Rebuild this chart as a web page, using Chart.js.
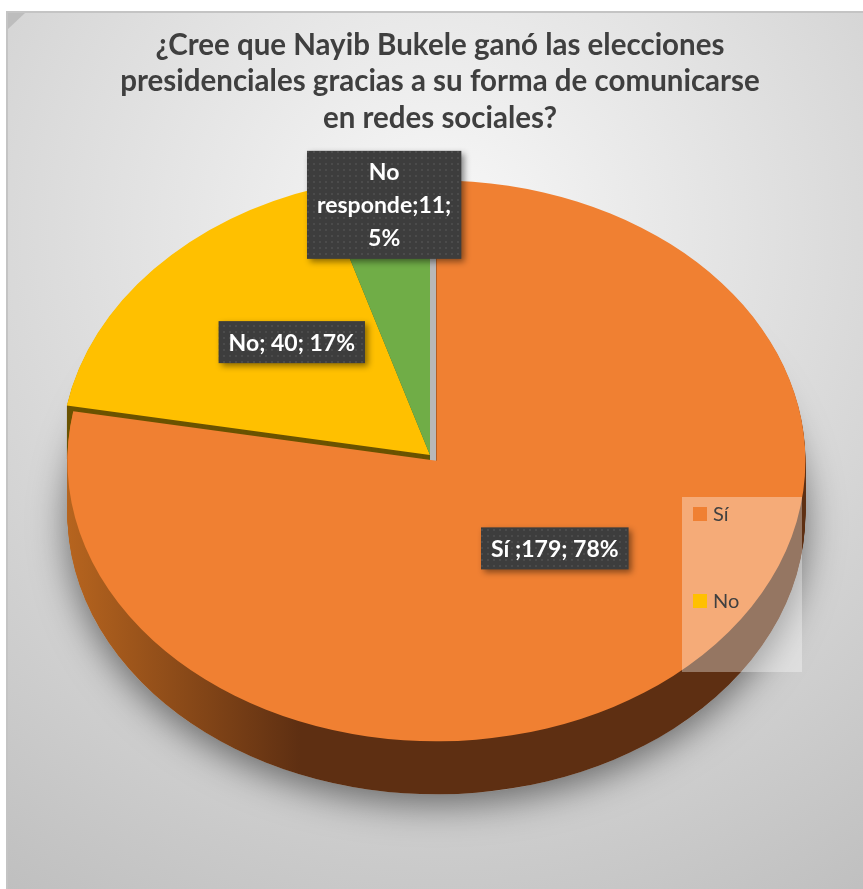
<!DOCTYPE html>
<html>
<head>
<meta charset="utf-8">
<style>
  html, body { margin: 0; padding: 0; background: #ffffff; }
  canvas { display: block; }
</style>
<script src="https://cdn.jsdelivr.net/npm/chart.js@4.4.1/dist/chart.umd.min.js"></script>
</head>
<body>
<canvas id="chart" width="863" height="889"></canvas>
<script>
// ---------------- data ----------------
const categories = ['Sí ', 'No', 'No responde'];
const responses = [179, 40, 11];
const labelSeparators = [';', '; ', ';'];
const titleLines = [
  '¿Cree que Nayib Bukele ganó las elecciones',
  'presidenciales gracias a su forma de comunicarse',
  'en redes sociales?'
];

// ---------------- style ----------------
const W = 863, H = 889;
const topColors = ['#F08032', '#FFC000', '#70AD47'];
const sideColors = [null, '#6B5300', '#3E6127'];
const PIE_R = 369;          // radius in px
const TILT = 0.76;          // vertical squash of the 3D view
const DEPTH = 53;           // thickness of the pie in px
const CX = 430, CY = 455;   // centre of the top face on screen
const EXPLODE = [10, 0, 0]; // explode distance per slice
const LABEL_R = [0.5, 0.5, 0.83];
const LABEL_DY = -20;
const FONT = 'Lato, "Open Sans", sans-serif';

function makePattern() {
  const c = document.createElement('canvas');
  c.width = 6; c.height = 6;
  const p = c.getContext('2d');
  p.fillStyle = '#3d3d3d'; p.fillRect(0, 0, 6, 6);
  p.fillStyle = '#4b4b4b'; p.fillRect(1, 1, 2, 2);
  return c;
}

function wrapText(ctx, text, maxW) {
  const words = text.split(' ');
  const lines = [];
  let cur = '';
  for (const w of words) {
    const t = cur ? cur + ' ' + w : w;
    if (cur && ctx.measureText(t).width > maxW) { lines.push(cur); cur = w; }
    else cur = t;
  }
  if (cur) lines.push(cur);
  return lines;
}

const pie3d = {
  id: 'pie3d',
  beforeDraw(chart) {
    const ctx = chart.ctx;
    ctx.save();
    ctx.fillStyle = '#ffffff';
    ctx.fillRect(0, 0, W, H);
    const g = ctx.createRadialGradient(440, 230, 0, 440, 230, 820);
    g.addColorStop(0, '#f8f8f8');
    g.addColorStop(1, '#bdbdbd');
    ctx.fillStyle = g;
    ctx.fillRect(7, 12, W - 7, H - 12);
    ctx.strokeStyle = '#c4c4c4';
    ctx.lineWidth = 2;
    ctx.beginPath();
    ctx.moveTo(7, H); ctx.lineTo(7, 12); ctx.lineTo(W, 12);
    ctx.stroke();
    ctx.fillStyle = '#bdbdbd';
    ctx.beginPath();
    ctx.moveTo(8, 13); ctx.lineTo(25, 13); ctx.lineTo(8, 29); ctx.closePath();
    ctx.fill();
    ctx.restore();
  },
  beforeDatasetsDraw(chart) {
    const ctx = chart.ctx;
    const arcs = chart.getDatasetMeta(0).data;
    const a0 = arcs[0];
    const place = (dy) => {
      ctx.translate(CX, CY + dy);
      ctx.scale(1, TILT);
      ctx.translate(-a0.x, -a0.y);
    };
    const shift = (a, i) => {
      const m = (a.startAngle + a.endAngle) / 2;
      return [Math.cos(m) * EXPLODE[i], Math.sin(m) * EXPLODE[i]];
    };
    const drawAs = (a, color) => {
      const p = Object.create(a);
      p.options = Object.assign({}, a.options, { backgroundColor: color });
      a.draw.call(p, ctx);
    };

    // soft shadow under the pie (its light fill also shows through the explode gap)
    const [sx, sy] = shift(a0, 0);
    ctx.save();
    place(DEPTH);
    ctx.translate(sx, sy);
    ctx.shadowColor = 'rgba(0,0,0,0.5)';
    ctx.shadowBlur = 36;
    ctx.shadowOffsetY = 10;
    ctx.fillStyle = '#b8b8b8';
    ctx.beginPath();
    ctx.arc(a0.x, a0.y, a0.outerRadius, 0, Math.PI * 2);
    ctx.fill();
    ctx.restore();

    // sides (stacked layers)
    for (let s = DEPTH; s >= 1; s--) {
      arcs.forEach((a, i) => {
        const [ex, ey] = shift(a, i);
        ctx.save();
        place(s);
        ctx.translate(ex, ey);
        let col = sideColors[i];
        if (!col) {
          const off = CX - a0.x + ex;
          col = ctx.createLinearGradient(60 - off, 0, 300 - off, 0);
          col.addColorStop(0, '#B9661F');
          col.addColorStop(1, '#5E2F12');
        }
        drawAs(a, col);
        ctx.restore();
      });
    }
    // top faces
    arcs.forEach((a, i) => {
      const [ex, ey] = shift(a, i);
      ctx.save();
      place(0);
      ctx.translate(ex, ey);
      a.draw(ctx);
      ctx.restore();
    });
    return false;
  },
  afterDraw(chart) {
    const ctx = chart.ctx;
    const arcs = chart.getDatasetMeta(0).data;
    const total = responses.reduce((s, v) => s + v, 0);
    const pattern = ctx.createPattern(makePattern(), 'repeat');

    // data labels
    arcs.forEach((a, i) => {
      const m = (a.startAngle + a.endAngle) / 2;
      const ex = Math.cos(m) * EXPLODE[i], ey = Math.sin(m) * EXPLODE[i] * TILT;
      const r = a.outerRadius * LABEL_R[i];
      const lx = CX + Math.cos(m) * r + ex;
      const ly = CY + LABEL_DY + Math.sin(m) * r * TILT + ey;
      const pct = Math.round(responses[i] / total * 100);
      const text = categories[i] + labelSeparators[i] + responses[i] + '; ' + pct + '%';
      ctx.save();
      ctx.font = 'bold 23px ' + FONT;
      const lines = wrapText(ctx, text, 160);
      const tw = Math.max(...lines.map(l => ctx.measureText(l).width));
      const lh = 33;
      const bw = tw + 20, bh = lines.length * lh + 9;
      const bx = lx - bw / 2, by = ly - bh / 2;
      ctx.save();
      ctx.shadowColor = 'rgba(0,0,0,0.45)';
      ctx.shadowBlur = 6;
      ctx.shadowOffsetX = 3;
      ctx.shadowOffsetY = 3;
      ctx.fillStyle = pattern;
      ctx.fillRect(bx, by, bw, bh);
      ctx.restore();
      ctx.fillStyle = '#ffffff';
      ctx.textAlign = 'center';
      ctx.textBaseline = 'middle';
      lines.forEach((l, j) => ctx.fillText(l, lx, by + 4.5 + lh * (j + 0.5) + 1));
      ctx.restore();
    });

    // legend (box clips the last entry, as in the original)
    const lgX = 682, lgY = 497, lgW = 120, lgH = 175;
    ctx.save();
    ctx.beginPath();
    ctx.rect(lgX, lgY, lgW, lgH);
    ctx.clip();
    ctx.fillStyle = 'rgba(255,255,255,0.34)';
    ctx.fillRect(lgX, lgY, lgW, lgH);
    ctx.font = '20px ' + FONT;
    ctx.textBaseline = 'middle';
    ctx.textAlign = 'left';
    categories.forEach((c, i) => {
      const y = lgY + 17 + i * 87;
      ctx.fillStyle = topColors[i];
      ctx.fillRect(lgX + 11, y - 7, 14, 14);
      ctx.fillStyle = '#404040';
      ctx.fillText(c.trim(), lgX + 31, y + 1);
    });
    ctx.restore();
  }
};

new Chart(document.getElementById('chart'), {
  type: 'pie',
  data: {
    labels: categories,
    datasets: [{
      data: responses,
      backgroundColor: topColors,
      borderWidth: 0,
      radius: PIE_R,
      clip: false
    }]
  },
  options: {
    responsive: false,
    devicePixelRatio: 1,
    animation: false,
    events: [],
    layout: { padding: { top: 12, left: 17, right: 0, bottom: 20 } },
    plugins: {
      legend: { display: false },
      tooltip: { enabled: false },
      title: {
        display: true,
        text: titleLines,
        color: '#3f3f3f',
        font: { family: FONT, size: 29.5, weight: 'bold', lineHeight: 1.237 },
        padding: { top: 15, bottom: 10 }
      }
    }
  },
  plugins: [pie3d]
});
</script>
</body>
</html>
